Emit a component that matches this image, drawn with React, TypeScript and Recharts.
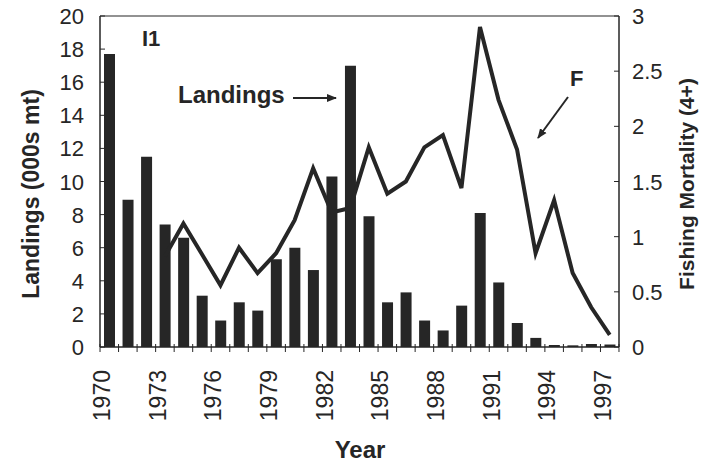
import { ComposedChart, Bar, Line, XAxis, YAxis, ReferenceLine } from 'recharts';

const years = [
    1970, 1971, 1972, 1973, 1974, 1975, 1976, 1977, 1978, 1979,
    1980, 1981, 1982, 1983, 1984, 1985, 1986, 1987, 1988, 1989,
    1990, 1991, 1992, 1993, 1994, 1995, 1996, 1997,
];

// landings, 000s mt
const landings = [
    17.7, 8.9, 11.5, 7.4, 6.6, 3.1, 1.6, 2.7, 2.2, 5.3,
    6.0, 4.65, 10.3, 17.0, 7.9, 2.7, 3.3, 1.6, 1.0, 2.5,
    8.1, 3.9, 1.45, 0.55, 0.12, 0.1, 0.18, 0.15,
];

// fishing mortality (4+), no estimate before 1973
const mortality: (number | null)[] = [
    null, null, null, 0.82, 1.12, 0.84, 0.56, 0.9, 0.67, 0.85,
    1.15, 1.62, 1.22, 1.26, 1.81, 1.39, 1.5, 1.81, 1.92, 1.44,
    2.9, 2.24, 1.79, 0.85, 1.33, 0.67, 0.36, 0.11,
];

const leftTicks = [0, 2, 4, 6, 8, 10, 12, 14, 16, 18, 20];
const rightTicks = [0, 0.5, 1, 1.5, 2, 2.5, 3];

const data = years.map((year, i) => ({
    year,
    landings: landings[i],
    f: mortality[i],
}));

const FONT = '"Liberation Sans", Arial, sans-serif';
const INK = '#262626';
const HALF_BAND = 9.25;

function YearTick(props: any) {
    const { x, y, payload, index } = props;
    const showLabel = index % 3 === 0;
    const tx = x + 1;
    const ty = y + 23;
    return (
        <g>
            <line x1={x - HALF_BAND} y1={y - 3} x2={x - HALF_BAND} y2={y + 5} stroke={INK} strokeWidth={1} />
            {index === years.length - 1 && (
                <line x1={x + HALF_BAND} y1={y - 3} x2={x + HALF_BAND} y2={y + 5} stroke={INK} strokeWidth={1} />
            )}
            {showLabel && (
                <text
                    x={tx}
                    y={ty}
                    transform={`rotate(-90, ${tx}, ${ty})`}
                    textAnchor="end"
                    fontFamily={FONT}
                    fontSize={23}
                    fill={INK}
                >
                    {payload.value}
                </text>
            )}
        </g>
    );
}

function LeftTick(props: any) {
    const { x, y, payload } = props;
    return (
        <g>
            <line x1={x} y1={y} x2={x + 5} y2={y} stroke={INK} strokeWidth={1} />
            <text x={x - 16} y={y + 8} textAnchor="end" fontFamily={FONT} fontSize={22} fill={INK}>
                {payload.value}
            </text>
        </g>
    );
}

function RightTick(props: any) {
    const { x, y, payload } = props;
    return (
        <g>
            <line x1={x - 5} y1={y} x2={x} y2={y} stroke={INK} strokeWidth={1} />
            <text x={x + 13} y={y + 8} textAnchor="start" fontFamily={FONT} fontSize={22} fill={INK}>
                {payload.value}
            </text>
        </g>
    );
}

export default function App() {
    return (
        <div style={{ position: 'absolute', left: 0, top: 0, width: 703, height: 467, background: '#fff' }}>
            <ComposedChart
                width={703}
                height={467}
                data={data}
                margin={{ top: 16, right: 0, bottom: 0, left: 0 }}
                barCategoryGap={0}
            >
                <XAxis
                    dataKey="year"
                    xAxisId="x"
                    height={120}
                    interval={0}
                    tickLine={false}
                    tickSize={0}
                    tickMargin={0}
                    tick={<YearTick />}
                    axisLine={{ stroke: INK, strokeWidth: 1.5 }}
                />
                <YAxis
                    yAxisId="left"
                    width={100}
                    domain={[0, 20]}
                    ticks={leftTicks}
                    interval={0}
                    tickLine={false}
                    tickSize={0}
                    tickMargin={0}
                    axisLine={{ stroke: INK, strokeWidth: 1.5 }}
                    tick={<LeftTick />}
                />
                <YAxis
                    yAxisId="right"
                    orientation="right"
                    width={84}
                    domain={[0, 3]}
                    ticks={rightTicks}
                    interval={0}
                    tickLine={false}
                    tickSize={0}
                    tickMargin={0}
                    axisLine={{ stroke: INK, strokeWidth: 1.5 }}
                    tick={<RightTick />}
                />
                <ReferenceLine yAxisId="left" xAxisId="x" y={20} stroke={INK} strokeWidth={1.2} />
                <Bar
                    xAxisId="x"
                    yAxisId="left"
                    dataKey="landings"
                    barSize={11}
                    fill={INK}
                    isAnimationActive={false}
                />
                <Line
                    xAxisId="x"
                    yAxisId="right"
                    dataKey="f"
                    type="linear"
                    stroke={INK}
                    strokeWidth={4}
                    strokeLinejoin="miter"
                    dot={false}
                    isAnimationActive={false}
                />
            </ComposedChart>
            <svg
                width={703}
                height={467}
                style={{ position: 'absolute', left: 0, top: 0, pointerEvents: 'none' }}
            >
                <defs>
                    <marker id="head" viewBox="0 0 10 10" refX="9" refY="5" markerWidth="5" markerHeight="5" orient="auto">
                        <path d="M0,1 L10,5 L0,9 z" fill={INK} />
                    </marker>
                </defs>
                <g fontFamily={FONT} fontWeight="bold" fill={INK}>
                    {/* axis titles */}
                    <text x={39} y={194} fontSize={23} textAnchor="middle" transform="rotate(-90, 39, 194)">
                        Landings (000s mt)
                    </text>
                    <text x={694} y={184} fontSize={21} textAnchor="middle" transform="rotate(-90, 694, 184)">
                        Fishing Mortality (4+)
                    </text>
                    <text x={360} y={458} fontSize={24} textAnchor="middle">Year</text>
                    {/* annotations */}
                    <text x={142} y={46} fontSize={22}>I1</text>
                    <text x={178} y={103} fontSize={24}>Landings</text>
                    <text x={570} y={86} fontSize={22}>F</text>
                </g>
                <line x1={293} y1={98} x2={336} y2={98} stroke={INK} strokeWidth={2} markerEnd="url(#head)" />
                <line x1={568} y1={97} x2={538} y2={138} stroke={INK} strokeWidth={2} markerEnd="url(#head)" />
            </svg>
        </div>
    );
}
